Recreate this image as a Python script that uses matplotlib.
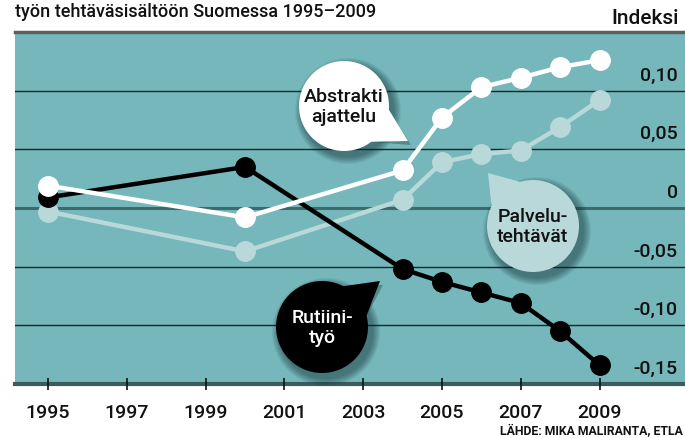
import matplotlib
matplotlib.use("Agg")
import matplotlib.pyplot as plt
from matplotlib import transforms
from matplotlib.patches import Circle, Polygon
import numpy as np

plt.rcParams['font.family'] = ['Roboto', 'DejaVu Sans']
plt.rcParams['font.weight'] = 'medium'

# data
years = [1995, 2000, 2004, 2005, 2006, 2007, 2008, 2009]
rutiini = [0.009, 0.035, -0.052, -0.063, -0.072, -0.081, -0.105, -0.134]
abstrakti = [0.019, -0.008, 0.032, 0.077, 0.103, 0.111, 0.120, 0.126]
palvelu = [-0.003, -0.037, 0.007, 0.039, 0.046, 0.049, 0.069, 0.092]

year_ticks = [1995, 1997, 1999, 2001, 2003, 2005, 2007, 2009]
y_ticks = [-0.15, -0.10, -0.05, 0, 0.05, 0.10]
y_labels = ['-0,15', '-0,10', '-0,05', '0', '0,05', '0,10']

bg = '#76b7bb'
light = '#b8d8da'
W, H = 685, 439

fig = plt.figure(figsize=(W / 100, H / 100), dpi=100)
ax = fig.add_axes([15 / W, 54 / H, 670 / W, 352 / H])
ax.set_facecolor(bg)
ax.set_xlim(1994.16, 2011.17)
ax.set_ylim(-0.15, 0.15)
for s in ax.spines.values():
    s.set_visible(False)

# grid lines
for v in y_ticks:
    if v == 0:
        ax.axhline(v, color='#3d6a6c', lw=2.2, zorder=1)
    elif v == -0.15:
        ax.axhline(v, color='#3b5c5e', lw=3, zorder=1, clip_on=False)
    else:
        ax.axhline(v, color='#14282a', lw=1, zorder=1)
ax.axhline(0.15, color='#5b5f60', lw=2.5, zorder=1, clip_on=False)

# y labels inside, on the right, above each line
lab_tr = transforms.offset_copy(ax.get_yaxis_transform(), fig, x=-7, y=16, units='dots')
for v, t in zip(y_ticks, y_labels):
    ax.text(1.0, v, t, transform=lab_tr, ha='right', va='center', fontsize=14, color='#111111')

ax.set_xticks(year_ticks)
ax.set_xticklabels([str(y) for y in year_ticks], fontsize=14, color='#111111')
ax.tick_params(axis='x', direction='inout', length=9, width=1.2, color='#111111', pad=9)
ax.set_yticks([])

# series
ax.plot(years, palvelu, color=light, lw=3.2, marker='o', ms=14, zorder=3)
ax.plot(years, rutiini, color='black', lw=3.2, marker='o', ms=14, zorder=4)
ax.plot(years, abstrakti, color='white', lw=3.2, marker='o', ms=14, zorder=5)

# speech bubbles in pixel space
ov = fig.add_axes([0, 0, 1, 1])
ov.set_xlim(0, W)
ov.set_ylim(H, 0)
ov.axis('off')


def bubble(cx, cy, r, tx, ty, face, text, tcolor):
    ang = np.arctan2(ty - cy, tx - cx)
    base = [(cx + r * np.cos(ang + d), cy + r * np.sin(ang + d)) for d in (0.42, -0.42)]
    # soft shadow
    for k in range(8):
        a = 0.07
        ov.add_patch(Circle((cx + 4, cy + 5), r + 8 - k, color='#0b2b2e', alpha=a, lw=0, zorder=6))
        ov.add_patch(Polygon([base[0], (tx + 3, ty + 4), base[1]], closed=True,
                             color='#0b2b2e', alpha=a * 0.6, lw=0, zorder=6))
    ov.add_patch(Circle((cx, cy), r, color=face, lw=0, zorder=7))
    ov.add_patch(Polygon([base[0], (tx, ty), base[1], (cx, cy)], closed=True, color=face, lw=0, zorder=7))
    ov.text(cx, cy, text, ha='center', va='center', fontsize=14, color=tcolor,
            linespacing=1.1, zorder=8)


bubble(344, 107, 45, 408, 142, 'white', 'Abstrakti\najattelu', '#111111')
bubble(533, 227, 46, 488, 174, light, 'Palvelu-\ntehtävät', '#111111')
bubble(322, 328, 46, 380, 282, 'black', 'Rutiini-\ntyö', 'white')

fig.text(15 / W, 1 - 12 / H, 'työn tehtäväsisältöön Suomessa 1995–2009', ha='left', va='center',
         fontsize=13, color='#111111')
fig.text(679 / W, 1 - 18 / H, 'Indeksi', ha='right', va='center', fontsize=15, color='#111111')
fig.text(683 / W, 1 - 432 / H, 'LÄHDE: MIKA MALIRANTA, ETLA', ha='right', va='center',
         fontsize=8.8, fontweight='bold', color='#111111')

fig.savefig('out.png', dpi=100)
